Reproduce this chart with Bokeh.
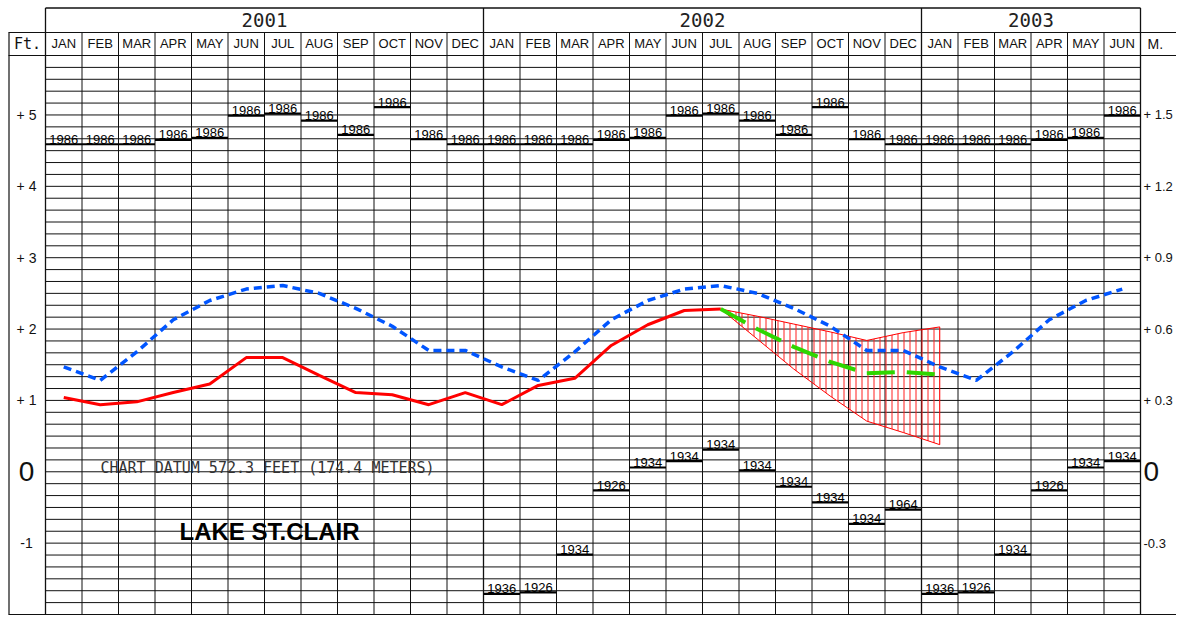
import numpy as np
from bokeh.plotting import figure
from bokeh.models import Range1d
from bokeh.core.properties import value
from bokeh.embed import file_html
from bokeh.resources import INLINE

# ---------------- data ----------------
month_names = ["JAN", "FEB", "MAR", "APR", "MAY", "JUN",
               "JUL", "AUG", "SEP", "OCT", "NOV", "DEC"]
years = ["2001", "2002", "2003"]
year_months = [12, 12, 6]

record_high = [4.59, 4.59, 4.59, 4.65, 4.68, 4.99, 5.02, 4.92, 4.72, 5.11, 4.66, 4.59]
record_high_year = ["1986"] * 12
record_low = [-1.71, -1.69, -1.16, -0.26, 0.06, 0.15, 0.31, 0.02, -0.21, -0.43, -0.73, -0.53]
record_low_year = ["1936", "1926", "1934", "1926", "1934", "1934",
                   "1934", "1934", "1934", "1934", "1934", "1964"]
long_term_avg = [1.47, 1.28, 1.68, 2.13, 2.40, 2.56, 2.61, 2.50, 2.29, 2.04, 1.70, 1.70]
recorded = [1.04, 0.94, 0.98, 1.11, 1.23, 1.60, 1.60, 1.35, 1.11, 1.08, 0.94, 1.11,
            0.94, 1.21, 1.31, 1.77, 2.06, 2.26, 2.28]
forecast = [2.28, 2.00, 1.75, 1.54, 1.38, 1.40, 1.36]
forecast_high = [2.28, 2.18, 2.07, 1.96, 1.84, 1.95, 2.03]
forecast_low = [2.28, 1.86, 1.44, 1.06, 0.71, 0.55, 0.38]
forecast_start = 18      # JUL 2002
record_low_start = 12    # record lows shown from JAN 2002

feet_ticks = [5, 4, 3, 2, 1, 0, -1]
feet_labels = ["+ 5", "+ 4", "+ 3", "+ 2", "+ 1", "0", "-1"]
meter_labels = ["+ 1.5", "+ 1.2", "+ 0.9", "+ 0.6", "+ 0.3", "0", "-0.3"]
datum_text = "CHART DATUM  572.3 FEET (174.4 METERS)"
lake_name = "LAKE  ST.CLAIR"

# ---------------- layout ----------------
W_PX, H_PX = 1176, 617
GX0, GX1 = 45, 1140          # grid left/right (px)
GY0, GY1 = 55, 614           # grid top/bottom (px)
N = sum(year_months)
Y_TOP, Y_BOT = 35 / 6, -2.0


def X(px):
    return (px - GX0) * N / (GX1 - GX0)


def Y(py):
    return Y_TOP - (py - GY0) * (Y_TOP - Y_BOT) / (GY1 - GY0)


SANS = "'Liberation Sans', Arial, sans-serif"
MONO = "'DejaVu Sans Mono', monospace"
INK = "#111111"

p = figure(width=W_PX, height=H_PX,
           x_range=Range1d(X(0), X(W_PX)),
           y_range=Range1d(Y(H_PX), Y(0)),
           output_backend="svg", toolbar_location=None, min_border=0,
           x_axis_location=None, y_axis_location=None,
           background_fill_color="white", border_fill_color="white")
p.outline_line_color = None
p.grid.visible = False

# horizontal grid lines every 2 inches (1/6 ft)
hy = np.arange(round(Y_BOT * 6), round(Y_TOP * 6) + 1) / 6
p.segment(x0=0, x1=N, y0=hy, y1=hy, line_color=INK, line_width=1)
# month verticals
mx = np.arange(0, N + 1)
p.segment(x0=mx, x1=mx, y0=Y_BOT, y1=Y(32), line_color=INK, line_width=1)
# year boundaries
yb = np.concatenate([[0], np.cumsum(year_months)])
p.segment(x0=yb, x1=yb, y0=Y_BOT, y1=Y(7.5), line_color=INK, line_width=1.3)
# frame lines
p.segment(x0=0, x1=N, y0=Y(7.5), y1=Y(7.5), line_color=INK, line_width=1.3)
for py in (32, 55):
    p.segment(x0=X(8), x1=X(1180), y0=Y(py), y1=Y(py), line_color=INK, line_width=1.2)
p.segment(x0=X(8), x1=X(1180), y0=Y_BOT, y1=Y_BOT, line_color=INK, line_width=1.2)
p.segment(x0=X(8.5), x1=X(8.5), y0=Y_BOT, y1=Y(32), line_color=INK, line_width=1.2)

# header texts
ystarts = yb[:-1]
p.text(x=[s + m / 2 for s, m in zip(ystarts, year_months)], y=Y(19.5), text=years,
       text_font=value(MONO), text_font_size="19px", text_color="#222222",
       text_align="center", text_baseline="middle")
all_months = [month_names[i % 12] for i in range(N)]
p.text(x=mx[:-1] + 0.5, y=Y(43), text=all_months,
       text_font=value(SANS), text_font_size="13px", text_color=INK,
       text_align="center", text_baseline="middle")
p.text(x=[X(27)], y=Y(43.5), text=["Ft."], text_font=value(MONO), text_font_size="15px",
       text_color=INK, text_align="center", text_baseline="middle")
p.text(x=[X(1147)], y=Y(43.5), text=["M."], text_font=value(SANS), text_font_size="14px",
       text_color=INK, text_align="left", text_baseline="middle")

# side scale labels
sizes = ["28px" if t == "0" else "14px" for t in feet_labels]
rsizes = ["28px" if t == "0" else "13px" for t in meter_labels]
p.text(x=X(26), y=feet_ticks, text=feet_labels, text_font=value(SANS),
       text_font_size=sizes, text_color=INK, text_align="center", text_baseline="middle")
p.text(x=X(1143), y=feet_ticks, text=meter_labels, text_font=value(SANS),
       text_font_size=rsizes, text_color=INK, text_align="left", text_baseline="middle")

# record highs (every month) and record lows (from 2002)
hi = [record_high[i % 12] for i in range(N)]
hi_lab = [record_high_year[i % 12] for i in range(N)]
p.segment(x0=mx[:-1], x1=mx[1:], y0=hi, y1=hi, line_color="black", line_width=2.2)
p.text(x=mx[:-1] + 0.5, y=hi, text=hi_lab, text_font=value(SANS), text_font_size="13px",
       text_color="black", text_align="center", text_baseline="alphabetic", y_offset=-5)
lo_idx = np.arange(record_low_start, N)
lo = [record_low[i % 12] for i in lo_idx]
lo_lab = [record_low_year[i % 12] for i in lo_idx]
p.segment(x0=lo_idx, x1=lo_idx + 1, y0=lo, y1=lo, line_color="black", line_width=2.2)
p.text(x=lo_idx + 0.5, y=lo, text=lo_lab, text_font=value(SANS), text_font_size="13px",
       text_color="black", text_align="center", text_baseline="alphabetic", y_offset=-5)

# forecast band
fx = list(np.arange(forecast_start, forecast_start + len(forecast)) + 0.5)
p.patch(x=fx + fx[::-1], y=forecast_high + forecast_low[::-1],
        fill_color=None, line_color="#ff0000", line_width=1,
        hatch_pattern="|", hatch_color="#ff2020", hatch_scale=6, hatch_weight=1)

# long-term average
avg = [long_term_avg[i % 12] for i in range(N)]
p.line(x=mx[:-1] + 0.5, y=avg, line_color="#0055ff", line_width=3.5, line_dash="8 5")
# recorded levels
p.line(x=np.arange(len(recorded)) + 0.5, y=recorded, line_color="#ff0000", line_width=3)
# forecast
p.line(x=fx, y=forecast, line_color="#2fd600", line_width=4, line_dash="28 12")

# annotations
p.text(x=[X(100)], y=[Y(467)], text=[datum_text], text_font=value(MONO),
       text_font_size="15px", text_color="#333333", text_align="left",
       text_baseline="alphabetic")
p.text(x=[X(179)], y=[Y(531)], text=[lake_name], text_font=value(SANS),
       text_font_size="24px", text_font_style="bold", text_color="black",
       text_align="left", text_baseline="alphabetic")

open("out.html", "w").write(file_html(p, INLINE))
